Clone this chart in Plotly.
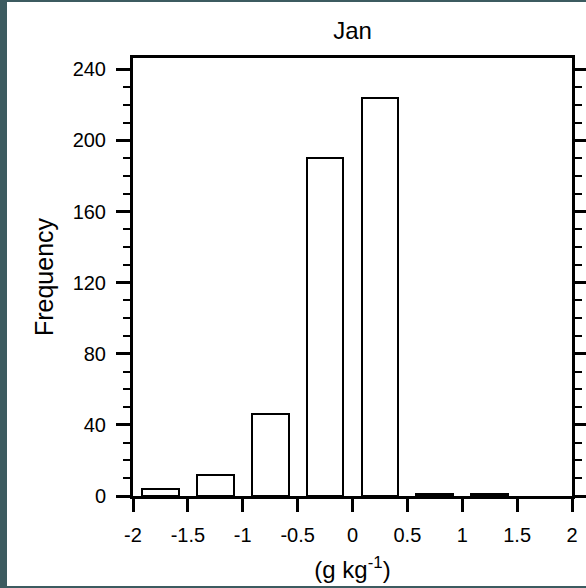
import plotly.graph_objects as go

# Data
bin_centers = [-1.75, -1.25, -0.75, -0.25, 0.25, 0.75, 1.25]
frequency = [4, 12, 46, 190, 224, 1, 1]
x_ticks = [-2, -1.5, -1, -0.5, 0, 0.5, 1, 1.5, 2]
x_ticktext = ["-2", "-1.5", "-1", "-0.5", "0", "0.5", "1", "1.5", "2"]
y_ticks = [0, 40, 80, 120, 160, 200, 240]

W, H = 586, 588
L, R, T, B = 133, 14, 58, 92
pw, ph = W - L - R, H - T - B

def px(x):
    return (x - L) / pw

def py(y):
    return (H - B - y) / ph

BORDER = "#3c5b60"
FONT = "Liberation Sans, Arial, Helvetica, sans-serif"

fig = go.Figure()
fig.add_trace(go.Bar(
    x=bin_centers, y=frequency, width=0.335,
    marker=dict(color="white", line=dict(color="black", width=2)),
    showlegend=False,
))

fig.update_layout(
    width=W, height=H, autosize=False,
    margin=dict(l=L, r=R, t=T, b=B, pad=0),
    paper_bgcolor="white", plot_bgcolor="white",
    font=dict(family=FONT, color="black", size=20),
    title=dict(text="Jan", x=0.5, xref="paper", xanchor="center",
               y=1 - 31 / H, yanchor="middle", font=dict(size=24)),
    bargap=0,
    shapes=[
        dict(type="rect", xref="paper", yref="paper", x0=px(0), x1=px(7), y0=py(H), y1=py(0),
             fillcolor=BORDER, line=dict(width=0), layer="above"),
        dict(type="rect", xref="paper", yref="paper", x0=px(0), x1=px(W), y0=py(2), y1=py(0),
             fillcolor=BORDER, line=dict(width=0), layer="above"),
        dict(type="rect", xref="paper", yref="paper", x0=px(0), x1=px(W), y0=py(H), y1=py(586),
             fillcolor=BORDER, line=dict(width=0), layer="above"),
    ],
)

fig.update_xaxes(
    range=[-2, 2], tickvals=x_ticks, ticktext=x_ticktext, automargin=False,
    ticks="outside", ticklen=13, tickwidth=3, tickcolor="black",
    showline=True, linecolor="black", linewidth=3, mirror=True,
    showgrid=False, zeroline=False,
    tickfont=dict(size=20), ticklabelstandoff=6,
    title=dict(text="(g kg<sup>-1</sup>)", font=dict(size=24), standoff=17),
)
fig.update_yaxes(
    range=[0, 246.4], tickvals=y_ticks, automargin=False,
    ticks="outside", ticklen=14, tickwidth=3, tickcolor="black",
    minor=dict(dtick=10, ticks="outside", ticklen=7, tickwidth=2, tickcolor="black", showgrid=False),
    showline=True, linecolor="black", linewidth=3, mirror="ticks",
    showgrid=False, zeroline=False,
    tickfont=dict(size=20), ticklabelstandoff=6,
    title=dict(text="Frequency", font=dict(size=25), standoff=12),
)

fig.write_html(
    "out.html",
    config={"displayModeBar": False, "responsive": False},
    post_script="document.body.style.margin='0';document.body.style.overflow='hidden';",
)
